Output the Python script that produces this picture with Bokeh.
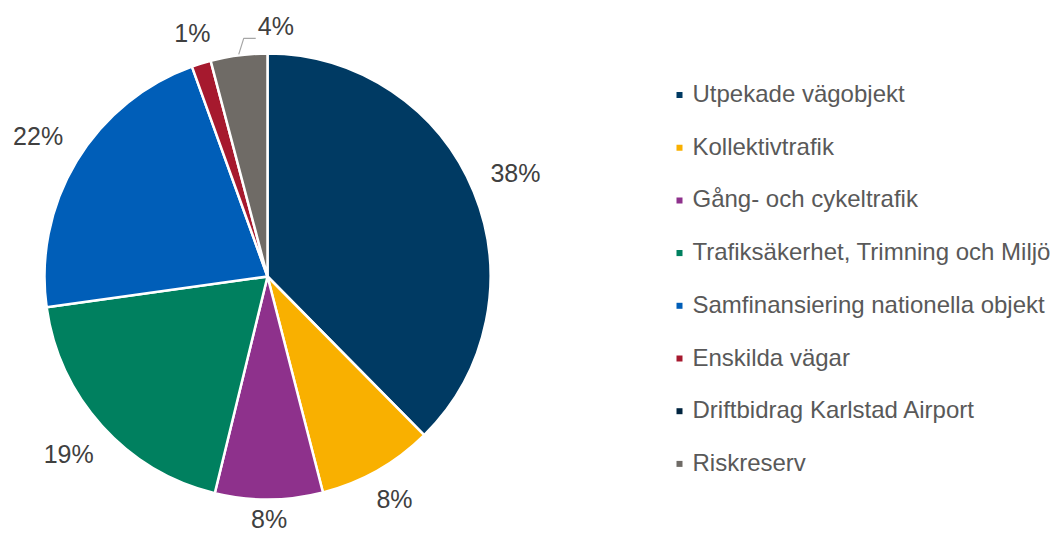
import math
from bokeh.plotting import figure
from bokeh.models import Range1d, ColumnDataSource
from bokeh.core.properties import value
from bokeh.embed import file_html
from bokeh.resources import INLINE

# ---- data ----
categories = ["Utpekade vägobjekt", "Kollektivtrafik", "Gång- och cykeltrafik",
              "Trafiksäkerhet, Trimning och Miljö", "Samfinansiering nationella objekt",
              "Enskilda vägar", "Driftbidrag Karlstad Airport", "Riskreserv"]
shares = [37.6, 8.4, 7.8, 19.0, 21.7, 1.4, 0.0, 4.1]
colors = ["#003A63", "#F9B000", "#8E318C", "#00805F", "#005EB8",
          "#A6192E", "#00243F", "#6F6B66"]
leader = [False, False, False, False, False, False, False, True]

# ---- layout (image pixel space, y flipped) ----
W, H = 1054, 535
def iy(y):
    return H - y

FONT = value("Liberation Sans")
cx, cy, R = 267, iy(276), 223

def label_radius(th):
    c = abs(math.cos(th))
    return 268 - max(0.0, c - 0.7) * 60

p = figure(width=W, height=H, output_backend="svg", toolbar_location=None,
           x_range=Range1d(0, W), y_range=Range1d(0, H),
           min_border=0, background_fill_color="white", border_fill_color="white")
p.axis.visible = False
p.grid.visible = False
p.outline_line_color = None

total = sum(shares)
starts, ends, wcolors = [], [], []
all_mids = []
cum = 0.0
for v, c in zip(shares, colors):
    a0 = cum / total
    cum += v
    a1 = cum / total
    all_mids.append(2 * math.pi * (a0 + a1) / 2)
    if v <= 0:
        continue
    starts.append(math.pi / 2 - 2 * math.pi * a0)
    ends.append(math.pi / 2 - 2 * math.pi * a1)
    wcolors.append(c)

src = ColumnDataSource(dict(start=starts, end=ends, color=wcolors))
p.wedge(x=cx, y=cy, radius=R, start_angle="start", end_angle="end",
        direction="clock", fill_color="color", line_color="white",
        line_width=2.5, source=src)

# ---- data labels ----
lx, ly, lt = [], [], []
for v, th, ld in zip(shares, all_mids, leader):
    if v <= 0 or ld:
        continue
    rl = label_radius(th)
    x = cx + rl * math.sin(th)
    y = cy + rl * math.cos(th) + 2
    y = max(y, 17)
    lx.append(x); ly.append(y); lt.append(f"{round(v)}%")
p.text(x=lx, y=ly, text=lt, text_font=FONT, text_font_size="25px",
       text_color="#404040", text_align="center", text_baseline="middle")

for v, th, ld in zip(shares, all_mids, leader):
    if v <= 0 or not ld:
        continue
    sx = cx + (R + 1) * math.sin(th)
    sy = cy + (R + 1) * math.cos(th)
    ex, ey = sx + 5, sy + 16
    fx = ex + 12
    p.line(x=[sx, ex, fx], y=[sy, ey, ey], line_color="#A6A6A6", line_width=1.2)
    p.text(x=[fx + 2], y=[ey + 12], text=[f"{round(v)}%"], text_font=FONT,
           text_font_size="25px", text_color="#404040",
           text_align="left", text_baseline="middle")

# ---- legend ----
leg_x_marker, leg_x_text = 679, 692
leg_c0, leg_step = 94.5, 52.7
leg_c = [iy(leg_c0 + leg_step * i) for i in range(len(categories))]
p.scatter(x=[leg_x_marker] * len(categories), y=leg_c,
          marker="square", size=6, fill_color=colors, line_color=None)
p.text(x=[leg_x_text] * len(categories), y=[c + 1.5 for c in leg_c], text=categories,
       text_font=FONT, text_font_size="24px", text_color="#595959",
       text_align="left", text_baseline="middle")

open("out.html", "w").write(file_html(p, INLINE))
